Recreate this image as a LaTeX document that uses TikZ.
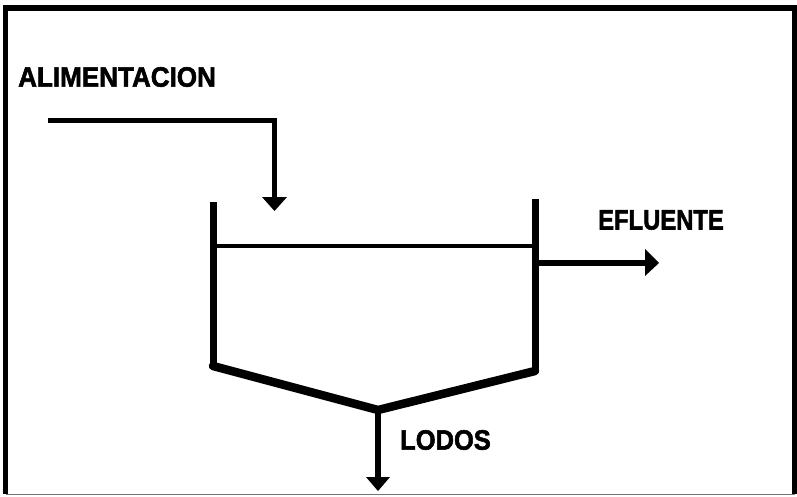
\documentclass[tikz,border=0pt]{standalone}
\usepackage{graphicx}
\usepackage{fontspec}
\setmainfont[BoldFeatures={FakeBold=2}]{Liberation Sans}
\begin{document}
\begin{tikzpicture}[x=1pt,y=-1pt,
  lbl/.style={font=\bfseries\fontsize{28}{28}\selectfont,inner sep=0pt,text=black},
  wall/.style={line width=7pt,black,line join=round},
  slope/.style={line width=8.5pt,black},
  flow/.style={line width=5.5pt,black},
  level/.style={line width=4.5pt,black},
  tip/.style={fill=black,draw=none}]
\useasboundingbox (0,0) rectangle (797,496);
\draw[line width=5.5pt,black] (5.5,494) -- (5.5,8) -- (794.5,8) -- (794.5,494);
\draw[line width=1.5pt,black!55] (5.5,494.5) -- (794.5,494.5);
\node[lbl,anchor=west] (ali) at (18,77) {\scalebox{.93}[1]{ALIMENTACION}};
\node[lbl,anchor=west] (efl) at (598,220) {\scalebox{.85}[1]{EFLUENTE}};
\node[lbl,anchor=west] (lod) at (400,440) {\scalebox{.91}[1]{LODOS}};
\coordinate (a0) at (48,120.5);
\coordinate (a1) at (274.5,120.5);
\coordinate (a2) at (274.5,211);
\coordinate (wl) at (213,202);
\coordinate (bl) at (213,366);
\coordinate (bc) at (378,410);
\coordinate (br) at (535,371);
\coordinate (wr) at (535,199);
\coordinate (ll) at (213,246);
\coordinate (lr) at (535,246);
\coordinate (e0) at (535,263);
\coordinate (e1) at (659,263);
\coordinate (d1) at (378,491);
\draw[flow,line join=miter] (a0) -- (a1) -- (274.5,200);
\fill[tip] (a2) -- (262,197) -- (287,197) -- cycle;
\draw[level] (ll) -- (lr);
\draw[flow] (e0) -- (648,263);
\fill[tip] (e1) -- (645,249) -- (645,276) -- cycle;
\draw[flow] (bc) -- (378,480);
\fill[tip] (d1) -- (366,477) -- (390,477) -- cycle;
\draw[wall] (wl) -- (bl);
\draw[wall] (wr) -- (br);
\draw[slope,line join=round,line cap=round] (bl) -- (bc) -- (br);
\end{tikzpicture}
\end{document}
